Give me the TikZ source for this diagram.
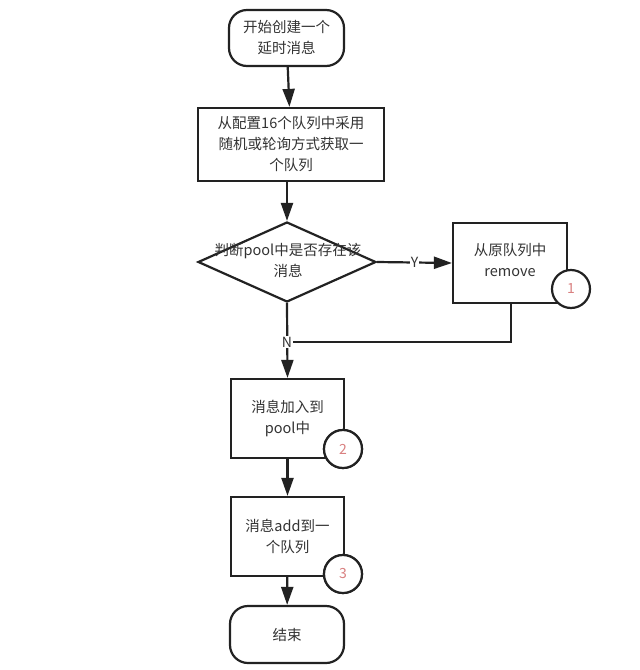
\documentclass[tikz,border=0pt]{standalone}
\usepackage{fontspec}
\setmainfont{Noto Sans CJK SC}
\usetikzlibrary{shapes.geometric,arrows.meta}
\definecolor{ln}{HTML}{222222}
\definecolor{tx}{HTML}{333333}
\definecolor{num}{HTML}{D98080}
\tikzset{
  base/.style={draw=ln, line width=2.2pt, fill=white, text=tx, font=\fontsize{14.5}{21}\selectfont, align=center, inner sep=0pt},
  term/.style={base, rectangle, rounded corners=18pt},
  proc/.style={base, rectangle},
  dec/.style={base, diamond, aspect=2.225, minimum width=178pt, minimum height=80pt},
  badge/.style={draw=ln, line width=2.2pt, fill=white, circle, minimum size=38pt, inner sep=0pt, text=num, font=\fontsize{14}{16}\selectfont},
  conn/.style={draw=ln, line width=2.2pt, -{Triangle[length=18pt,width=12pt]}},
  plain/.style={draw=ln, line width=2.2pt},
  lbl/.style={fill=white, text=tx, inner sep=1pt, font=\fontsize{14}{16}\selectfont}
}
\begin{document}
\begin{tikzpicture}[x=1pt,y=-1pt]
\useasboundingbox[fill=white] (0,0) rectangle (640,670);
\node[term, minimum width=115pt, minimum height=56pt] (start) at (286.5,38) {开始创建一个\\延时消息};
\node[proc, minimum width=186pt, minimum height=73pt] (pick) at (291,144.5) {从配置16个队列中采用\\随机或轮询方式获取一\\个队列};
\node[dec] (judge) at (287,262) {};
\node[text=tx, font=\fontsize{14.5}{21}\selectfont, align=center] (judgetxt) at (288,260) {判断pool中是否存在该\\消息};
\node[proc, minimum width=114pt, minimum height=80pt] (remove) at (510,263) {};
\node[text=tx, font=\fontsize{14.5}{21}\selectfont, align=center] (removetxt) at (510,260) {从原队列中\\remove};
\node[badge] (b1) at (571,289) {1};
\node[proc, minimum width=113pt, minimum height=79pt] (addpool) at (287.5,418.5) {消息加入到\\pool中};
\node[badge] (b2) at (343,449) {2};
\node[proc, minimum width=113pt, minimum height=79pt] (addq) at (287.5,536.5) {消息add到一\\个队列};
\node[badge] (b3) at (343,574) {3};
\node[term, minimum width=114pt, minimum height=57pt] (end) at (287,634.5) {结束};
\coordinate (join) at (287,342);
\coordinate (rdown) at (511,342);

\draw[conn] (start) -- (pick);
\draw[conn] (pick.south -| judge.north) -- (judge.north);
\draw[conn] (judge.east) -- node[lbl] (ylabel) {Y} (remove.west);
\draw[conn] (judge.south) -- (addpool.north);
\draw[plain] (remove.south -| rdown) -- (rdown) -- (join);
\node[lbl] (nlabel) at (join) {N};
\draw[conn] (addpool) -- (addq);
\draw[conn] (addq) -- (end);
\node[badge] at (b2) {2};
\node[badge] at (b3) {3};
\end{tikzpicture}
\end{document}
